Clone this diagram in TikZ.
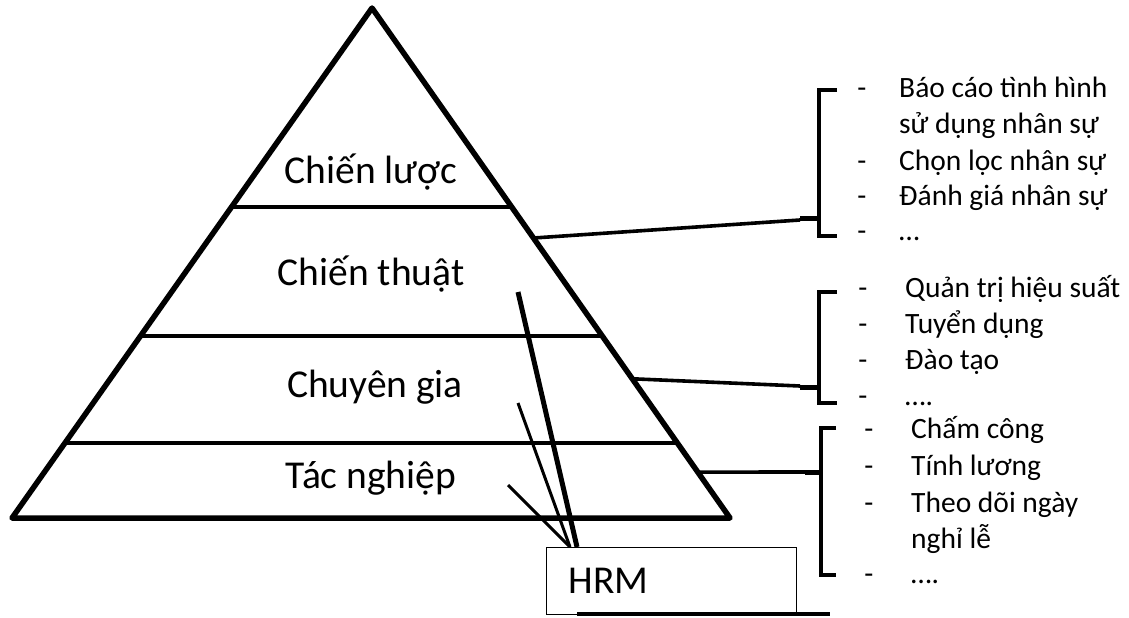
\documentclass[tikz,border=0pt]{standalone}
\usepackage{fontspec}
\setmainfont{Carlito}
\usetikzlibrary{calc}
\begin{document}
\begin{tikzpicture}[x=1pt,y=-1pt,
  edge/.style={line width=5.5pt,line join=round,line cap=round},
  divider/.style={line width=3.2pt},
  link/.style={line width=3.6pt},
  stub/.style={line width=5pt},
  bracket/.style={line width=4.5pt},
  level/.style={anchor=base,inner sep=0pt,font=\fontsize{39.5}{47}\selectfont},
  item/.style={anchor=base west,inner sep=0pt,font=\fontsize{29.5}{35}\selectfont},
  dashmark/.style={anchor=base,inner sep=0pt,font=\fontsize{29.5}{35}\selectfont},
  hrmlink/.style={line width=3pt},
  hrmlinkthick/.style={line width=5pt}]
\useasboundingbox (0,0) rectangle (1129,618);

% pyramid outline
\coordinate (apex) at (372,8);
\coordinate (bl) at (12,518);
\coordinate (br) at (730,518);
\draw[edge] (bl) -- (apex) -- (br) -- cycle;

% level dividers
\draw[divider] ($(apex)!0.390!(bl)$) -- ($(apex)!0.390!(br)$);
\draw[divider] ($(apex)!0.643!(bl)$) -- ($(apex)!0.643!(br)$);
\draw[divider] ($(apex)!0.853!(bl)$) -- ($(apex)!0.853!(br)$);

% level labels
\node[level] (strat) at (371,183) {Chiến lược};
\node[level] (tact) at (371,285) {Chiến thuật};
\node[level] (expert) at (375,397) {Chuyên gia};
\node[level] (oper) at (371,488) {Tác nghiệp};

% HRM box
\node[draw,line width=1.3pt,anchor=north west,minimum height=67pt,
      text width=206pt,inner xsep=22pt,inner ysep=0pt,align=left,
      font=\fontsize{39.5}{47}\selectfont] (hrm) at (546,547) {HRM};
\coordinate (shadowL) at (577,614);
\coordinate (shadowR) at (830,614);
\draw[line width=4.5pt] (shadowL) -- (shadowR);

% links from HRM into the pyramid
\coordinate (hrmA) at ($(hrm.north west)+(31,0)$);
\coordinate (hrmB) at ($(hrm.north west)+(24,0)$);
\coordinate (toTact) at (518,292);
\coordinate (toExpert) at (518,403);
\coordinate (toOper) at (508,485);
\draw[hrmlinkthick] (hrmA) -- (toTact);
\draw[hrmlink] (hrmB) -- (toExpert);
\draw[hrmlink] (hrmB) -- (toOper);

% brackets
\coordinate (b1t) at (837,90);  \coordinate (b1b) at (837,236);
\coordinate (b2t) at (837,292); \coordinate (b2b) at (837,403);
\coordinate (b3t) at (836,428); \coordinate (b3b) at (836,575);
\draw[bracket] (b1t) -- (819,90) -- (819,236) -- (b1b);
\draw[bracket] (b2t) -- (819,292) -- (819,403) -- (b2b);
\draw[bracket] (b3t) -- (821,428) -- (821,575) -- (b3b);

% connectors from pyramid edge to brackets
\coordinate (e1) at ($(apex)!0.451!(br)$);
\coordinate (e2) at ($(apex)!0.727!(br)$);
\coordinate (e3) at ($(apex)!0.910!(br)$);
\coordinate (j1) at (819,218);
\coordinate (j2) at (819,387);
\coordinate (j3) at (821,472);
\draw[link] (e1) -- (800,220);
\draw[stub] (800,218) -- (j1);
\draw[link] (e2) -- (800,386);
\draw[stub] (800,387) -- (j2);
\draw[link] (e3) -- (805,472);
\draw[stub] (805,472) -- (j3);

% list: strategic
\node[dashmark] (d1a) at (862,97) {-};
\node[item] (t1a) at (899,97) {Báo cáo tình hình};
\node[item] (t1b) at (899,133) {sử dụng nhân sự};
\node[dashmark] (d1c) at (862,170) {-};
\node[item] (t1c) at (899,170) {Chọn lọc nhân sự};
\node[dashmark] (d1d) at (862,205) {-};
\node[item] (t1d) at (899,205) {Đánh giá nhân sự};
\node[dashmark] (d1e) at (862,240) {-};
\node[item] (t1e) at (899,240) {…};

% list: tactical
\node[dashmark] (d2a) at (863,297) {-};
\node[item] (t2a) at (905,297) {Quản trị hiệu suất};
\node[dashmark] (d2b) at (863,333) {-};
\node[item] (t2b) at (905,333) {Tuyển dụng};
\node[dashmark] (d2c) at (863,369) {-};
\node[item] (t2c) at (905,369) {Đào tạo};
\node[dashmark] (d2d) at (863,405) {-};
\node[item] (t2d) at (905,405) {….};

% list: operational
\node[dashmark] (d3a) at (869,438) {-};
\node[item] (t3a) at (911,438) {Chấm công};
\node[dashmark] (d3b) at (869,475) {-};
\node[item] (t3b) at (911,475) {Tính lương};
\node[dashmark] (d3c) at (869,512) {-};
\node[item] (t3c) at (911,512) {Theo dõi ngày};
\node[item] (t3d) at (911,548) {nghỉ lễ};
\node[dashmark] (d3e) at (869,583) {-};
\node[item] (t3e) at (911,583) {….};
\end{tikzpicture}
\end{document}
